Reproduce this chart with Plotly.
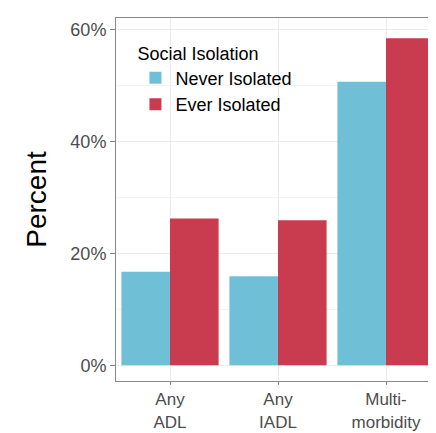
import plotly.graph_objects as go

categories = ["Any<br>ADL", "Any<br>IADL", "Multi-<br>morbidity"]
never_isolated = [16.7, 15.9, 50.6]
ever_isolated = [26.2, 25.9, 58.4]
y_ticks = [0, 20, 40, 60]
y_labels = ["0%", "20%", "40%", "60%"]

fig = go.Figure()
fig.add_trace(go.Bar(x=categories, y=never_isolated, name="Never Isolated",
                     marker=dict(color="#6fc0d6", line=dict(width=0))))
fig.add_trace(go.Bar(x=categories, y=ever_isolated, name="Ever Isolated",
                     marker=dict(color="#c93b4e", line=dict(width=0))))

fig.update_layout(
    width=436, height=433,
    margin=dict(l=108, r=4, t=10, b=60),
    paper_bgcolor="white", plot_bgcolor="white",
    barmode="group", bargap=0.1, bargroupgap=0,
    font=dict(family="Liberation Sans, Arial", color="#4d4d4d"),
    legend=dict(x=0.06, y=0.95, xanchor="left", yanchor="top",
                title=dict(text="Social Isolation", font=dict(size=18, color="black")),
                font=dict(size=18, color="black"), bgcolor="rgba(0,0,0,0)",
                tracegroupgap=0),
)
fig.update_xaxes(tickfont=dict(size=17), showline=True, linecolor="#888", mirror=True,
                 showgrid=True, gridcolor="#ebebeb", ticks="outside", tickcolor="#888",
                 ticklen=3)
fig.update_yaxes(range=[-2.8, 62], tickvals=y_ticks, ticktext=y_labels,
                 tickfont=dict(size=18), title=dict(text="Percent", font=dict(size=28, color="black")),
                 showline=True, linecolor="#888", mirror=True, zeroline=False,
                 showgrid=True, gridcolor="#ebebeb", ticks="outside", tickcolor="#888",
                 minor=dict(showgrid=True, gridcolor="#f4f4f4", tickvals=[10, 30, 50]))
fig.write_html("out.html")
